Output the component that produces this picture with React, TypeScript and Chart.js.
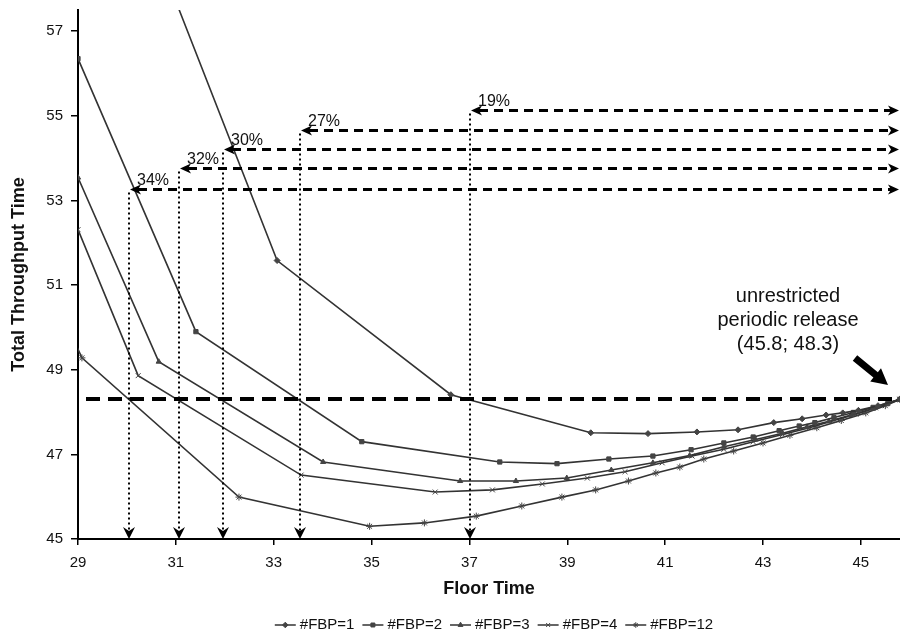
import React, { useEffect, useRef } from 'react';
import { Chart, registerables } from 'chart.js';
import { drawPoint } from 'chart.js/helpers';

Chart.register(...registerables);

// ---- axis ticks ----
const xTickValues = [29, 31, 33, 35, 37, 39, 41, 43, 45];
const yTickValues = [45, 47, 49, 51, 53, 55, 57];

// ---- series ----
const seriesNames = ['#FBP=1', '#FBP=2', '#FBP=3', '#FBP=4', '#FBP=12'];
const seriesMarkers = ['rectRot', 'rect', 'triangle', 'crossRot', 'star'];

const fbp1Floor = [30.9, 33.07, 36.62, 39.48, 40.65, 41.65, 42.49, 43.22, 43.8, 44.29, 44.63, 44.95, 45.35, 45.8];
const fbp1Ttt = [58.0, 51.58, 48.41, 47.51, 47.49, 47.53, 47.58, 47.75, 47.84, 47.93, 47.98, 48.04, 48.15, 48.3];

const fbp2Floor = [29, 31.41, 34.8, 37.62, 38.79, 39.85, 40.75, 41.53, 42.2, 42.8, 43.33, 43.74, 44.06, 44.45, 44.85, 45.25, 45.55, 45.8];
const fbp2Ttt = [56.35, 49.9, 47.3, 46.82, 46.78, 46.89, 46.96, 47.11, 47.27, 47.41, 47.56, 47.67, 47.75, 47.87, 47.99, 48.11, 48.2, 48.3];

const fbp3Floor = [29, 30.65, 34.01, 36.81, 37.95, 38.99, 39.9, 40.75, 41.5, 42.2, 42.85, 43.4, 43.9, 44.35, 44.8, 45.25, 45.8];
const fbp3Ttt = [53.54, 49.19, 46.82, 46.37, 46.37, 46.44, 46.63, 46.8, 46.97, 47.18, 47.35, 47.5, 47.65, 47.78, 47.93, 48.08, 48.3];

const fbp4Floor = [29, 30.23, 33.56, 36.3, 37.47, 38.49, 39.41, 40.18, 40.94, 41.55, 42.2, 42.8, 43.4, 43.95, 44.45, 44.9, 45.3, 45.8];
const fbp4Ttt = [52.31, 48.86, 46.51, 46.11, 46.16, 46.3, 46.44, 46.59, 46.8, 46.96, 47.12, 47.3, 47.47, 47.63, 47.8, 47.95, 48.1, 48.3];

const fbp12Floor = [28.8, 29.08, 32.29, 34.96, 36.08, 37.14, 38.07, 38.89, 39.58, 40.25, 40.81, 41.3, 41.79, 42.4, 43.0, 43.55, 44.1, 44.6, 45.1, 45.5, 45.8];
const fbp12Ttt = [50.0, 49.28, 45.99, 45.3, 45.38, 45.54, 45.78, 45.99, 46.16, 46.37, 46.56, 46.7, 46.89, 47.08, 47.27, 47.45, 47.63, 47.8, 47.98, 48.15, 48.3];

const seriesFloor = [fbp1Floor, fbp2Floor, fbp3Floor, fbp4Floor, fbp12Floor];
const seriesTtt = [fbp1Ttt, fbp2Ttt, fbp3Ttt, fbp4Ttt, fbp12Ttt];

// ---- annotations ----
const refFloor = 45.8;
const refThroughput = 48.3;
const refLabelLines = ['unrestricted', 'periodic release', '(45.8; 48.3)'];
const reductionLabels = ['34%', '32%', '30%', '27%', '19%'];
const reductionFloor = [30.04, 31.06, 31.96, 33.53, 37.02];
const reductionLevel = [53.28, 53.76, 54.21, 54.66, 55.13];

const FONT = '"Liberation Sans", Arial, Helvetica, sans-serif';
const LINE_COLOR = '#333333';

function arrowHead(ctx: CanvasRenderingContext2D, tipX: number, tipY: number, dirX: number, dirY: number, len: number, half: number, notch: number) {
  const nx = -dirY, ny = dirX;
  const bx = tipX - dirX * len, by = tipY - dirY * len;
  const mx = tipX - dirX * (len - notch), my = tipY - dirY * (len - notch);
  ctx.beginPath();
  ctx.moveTo(tipX, tipY);
  ctx.lineTo(bx + nx * half, by + ny * half);
  ctx.lineTo(mx, my);
  ctx.lineTo(bx - nx * half, by - ny * half);
  ctx.closePath();
  ctx.fill();
}

const annotationPlugin = {
  id: 'floorAnnotations',
  afterDatasetsDraw(chart: any) {
    const { ctx, chartArea, scales } = chart;
    const xs = scales.x, ys = scales.y;
    ctx.save();
    ctx.fillStyle = '#000';
    ctx.strokeStyle = '#000';
    ctx.lineCap = 'butt';

    // reference level line
    const refY = Math.round(ys.getPixelForValue(refThroughput));
    const refX = xs.getPixelForValue(refFloor);
    ctx.lineWidth = 4;
    ctx.setLineDash([14, 8]);
    ctx.beginPath();
    ctx.moveTo(chartArea.left + 8, refY);
    ctx.lineTo(refX, refY);
    ctx.stroke();

    const bottom = chartArea.bottom;
    const right = chartArea.right - 1;
    for (let i = 0; i < reductionLabels.length; i++) {
      const xp = Math.round(xs.getPixelForValue(reductionFloor[i]));
      const yp = Math.round(ys.getPixelForValue(reductionLevel[i])) + 0.5;
      // dotted vertical
      ctx.setLineDash([2, 3]);
      ctx.lineWidth = 2;
      ctx.beginPath();
      ctx.moveTo(xp, yp + 3);
      ctx.lineTo(xp, bottom - 8);
      ctx.stroke();
      ctx.setLineDash([]);
      arrowHead(ctx, xp, bottom, 0, 1, 12, 6, 4);
      // dashed horizontal
      ctx.setLineDash([9, 6]);
      ctx.lineWidth = 3;
      ctx.beginPath();
      ctx.moveTo(xp + 9, yp);
      ctx.lineTo(right - 8, yp);
      ctx.stroke();
      ctx.setLineDash([]);
      arrowHead(ctx, xp + 1, yp, -1, 0, 11, 5, 3);
      arrowHead(ctx, right, yp, 1, 0, 11, 5, 3);
      // label
      ctx.font = '16px ' + FONT;
      ctx.fillStyle = '#111';
      ctx.textAlign = 'left';
      ctx.textBaseline = 'alphabetic';
      ctx.fillText(reductionLabels[i], xp + 8, yp - 5);
      ctx.fillStyle = '#000';
    }

    // unrestricted release label
    ctx.font = '20px ' + FONT;
    ctx.fillStyle = '#111';
    ctx.textAlign = 'center';
    ctx.textBaseline = 'middle';
    const lineOffsets = [-103, -79, -55];
    refLabelLines.forEach((t, i) => ctx.fillText(t, refX - 112, refY + lineOffsets[i]));

    // big arrow
    const tailX = refX - 45, tailY = refY - 41;
    const tipX = refX - 12, tipY = refY - 14;
    const dx = tipX - tailX, dy = tipY - tailY;
    const L = Math.hypot(dx, dy);
    const ux = dx / L, uy = dy / L;
    const nx = -uy, ny = ux;
    const headLen = 16, shaftHalf = 3.5, headHalf = 8.5;
    const hbx = tipX - ux * headLen, hby = tipY - uy * headLen;
    ctx.fillStyle = '#000';
    ctx.beginPath();
    ctx.moveTo(tailX + nx * shaftHalf, tailY + ny * shaftHalf);
    ctx.lineTo(hbx + nx * shaftHalf, hby + ny * shaftHalf);
    ctx.lineTo(hbx + nx * headHalf, hby + ny * headHalf);
    ctx.lineTo(tipX, tipY);
    ctx.lineTo(hbx - nx * headHalf, hby - ny * headHalf);
    ctx.lineTo(hbx - nx * shaftHalf, hby - ny * shaftHalf);
    ctx.lineTo(tailX - nx * shaftHalf, tailY - ny * shaftHalf);
    ctx.closePath();
    ctx.fill();

    ctx.restore();
  },
};

const legendPlugin = {
  id: 'lineLegend',
  afterDraw(chart: any) {
    const { ctx, chartArea } = chart;
    ctx.save();
    ctx.font = '15px ' + FONT;
    const symW = 21, symGap = 4, itemGap = 8;
    const widths = seriesNames.map((n) => ctx.measureText(n).width);
    const total = widths.reduce((a, w) => a + symW + symGap + w, 0) + itemGap * (seriesNames.length - 1);
    let cx = (chartArea.left + chartArea.right) / 2 + 5 - total / 2;
    const cy = 625;
    chart.data.datasets.forEach((ds: any, i: number) => {
      ctx.strokeStyle = LINE_COLOR;
      ctx.lineWidth = 1.5;
      ctx.setLineDash([]);
      ctx.beginPath();
      ctx.moveTo(cx, cy);
      ctx.lineTo(cx + symW, cy);
      ctx.stroke();
      ctx.fillStyle = '#444';
      ctx.strokeStyle = '#444';
      ctx.lineWidth = 1;
      drawPoint(ctx, { pointStyle: ds.pointStyle, radius: 2.8, borderWidth: 1, rotation: 0 }, cx + symW / 2, cy);
      ctx.fillStyle = '#111';
      ctx.textAlign = 'left';
      ctx.textBaseline = 'middle';
      ctx.fillText(seriesNames[i], cx + symW + symGap, cy);
      cx += symW + symGap + widths[i] + itemGap;
    });
    ctx.restore();
  },
};

export default function App() {
  const canvasRef = useRef<HTMLCanvasElement | null>(null);

  useEffect(() => {
    const canvas = canvasRef.current;
    if (!canvas) return;
    const datasets = seriesNames.map((name, i) => ({
      label: name,
      data: seriesFloor[i].map((xv, j) => ({ x: xv, y: seriesTtt[i][j] })),
      borderColor: LINE_COLOR,
      backgroundColor: '#444',
      pointBorderColor: '#444',
      pointBackgroundColor: '#444',
      borderWidth: 1.6,
      pointStyle: seriesMarkers[i],
      pointRadius: seriesMarkers[i] === 'crossRot' || seriesMarkers[i] === 'star' ? 3.5 : 3,
      pointBorderWidth: 1,
      tension: 0,
      fill: false,
    }));

    const chart = new Chart(canvas, {
      type: 'line',
      data: { datasets },
      options: {
        responsive: false,
        animation: false,
        events: [],
        layout: { autoPadding: false, padding: { left: 0, right: 0, top: 10, bottom: 34 } },
        plugins: {
          legend: { display: false },
          tooltip: { enabled: false },
        },
        scales: {
          x: {
            type: 'linear',
            min: 29,
            max: 45.8,
            afterBuildTicks: (axis: any) => {
              axis.ticks = xTickValues.map((v) => ({ value: v }));
            },
            afterFit: (axis: any) => {
              axis.height = 61;
              axis.paddingLeft = 0;
              axis.paddingRight = 0;
            },
            grid: { display: true, drawOnChartArea: false, drawTicks: true, tickLength: 6, color: '#000', lineWidth: 1.5 },
            border: { display: true, color: '#000', width: 2 },
            ticks: {
              color: '#111',
              font: { family: FONT, size: 15 },
              padding: 9,
              maxRotation: 0,
              callback: (v: any) => String(v),
            },
            title: {
              display: true,
              text: 'Floor Time',
              color: '#111',
              font: { family: FONT, size: 18, weight: 'bold' },
              padding: { top: 0, bottom: 0 },
            },
          },
          y: {
            type: 'linear',
            min: 45,
            max: 57.5,
            afterBuildTicks: (axis: any) => {
              axis.ticks = yTickValues.map((v) => ({ value: v }));
            },
            afterFit: (axis: any) => {
              axis.width = 78;
              axis.paddingTop = 0;
              axis.paddingBottom = 0;
            },
            grid: { display: true, drawOnChartArea: false, drawTicks: true, tickLength: 7, color: '#000', lineWidth: 1.5 },
            border: { display: true, color: '#000', width: 2 },
            ticks: {
              color: '#111',
              font: { family: FONT, size: 15 },
              padding: 8,
              callback: (v: any) => String(v),
            },
            title: {
              display: true,
              text: 'Total Throughput Time',
              color: '#111',
              font: { family: FONT, size: 18, weight: 'bold' },
              padding: { top: 8, bottom: 0 },
            },
          },
        },
      },
      plugins: [annotationPlugin, legendPlugin],
    } as any);

    return () => chart.destroy();
  }, []);

  return (
    <div style={{ position: 'fixed', left: 0, top: 0, width: 900, height: 634, background: '#fff' }}>
      <canvas ref={canvasRef} width={900} height={634} style={{ display: 'block', width: 900, height: 634 }} />
    </div>
  );
}
